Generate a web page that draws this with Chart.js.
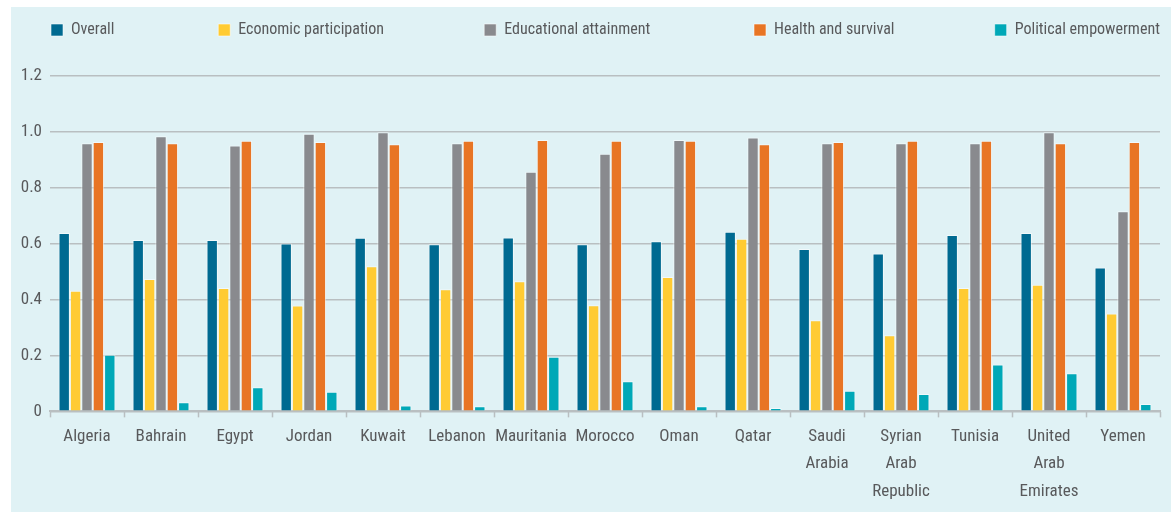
<!DOCTYPE html>
<html>
<head>
<meta charset="utf-8">
<script src="https://cdn.jsdelivr.net/npm/chart.js@4.4.1/dist/chart.umd.min.js"></script>
<style>
  html, body { margin: 0; padding: 0; background: #ffffff; }
  #panel { position: absolute; left: 11px; top: 7px; width: 1160px; height: 505px; background: #e0f2f5; }
</style>
</head>
<body>
<div id="panel"><canvas id="chart"></canvas></div>
<script>
"use strict";

// Gender gap index, MENA countries
const countries = [
  "Algeria", "Bahrain", "Egypt", "Jordan", "Kuwait", "Lebanon", "Mauritania", "Morocco",
  "Oman", "Qatar", ["Saudi", "Arabia"], ["Syrian", "Arab", "Republic"], "Tunisia",
  ["United", "Arab", "Emirates"], "Yemen",
];
const overall = [0.638, 0.613, 0.613, 0.601, 0.621, 0.598, 0.622, 0.598, 0.609, 0.643, 0.581, 0.565, 0.631, 0.638, 0.515];
const economic = [0.432, 0.474, 0.441, 0.379, 0.519, 0.437, 0.466, 0.380, 0.481, 0.618, 0.326, 0.272, 0.441, 0.453, 0.350];
const education = [0.959, 0.984, 0.951, 0.993, 0.999, 0.959, 0.857, 0.922, 0.971, 0.980, 0.959, 0.959, 0.959, 0.999, 0.716];
const health = [0.964, 0.959, 0.968, 0.964, 0.956, 0.968, 0.971, 0.968, 0.968, 0.956, 0.964, 0.968, 0.968, 0.959, 0.964];
const political = [0.203, 0.033, 0.086, 0.070, 0.021, 0.018, 0.195, 0.108, 0.018, 0.012, 0.074, 0.062, 0.168, 0.136, 0.026];
const y_ticks = [0, 0.2, 0.4, 0.6, 0.8, 1.0, 1.2];

const text_color = "#58595b";
const grid_color = "#b9bfc1";
const font_family = "'Roboto Condensed', 'Liberation Sans Narrow', 'DejaVu Sans Condensed', sans-serif";
const legend_font = 16;
// where each legend box starts (canvas px)
const legend_box_x = [40, 207, 472, 741, 982];

Chart.defaults.font.family = font_family;
Chart.defaults.font.size = 17;
Chart.defaults.color = text_color;

function make_set(label, values, color) {
  return {
    label: label,
    data: values,
    backgroundColor: color,
    borderColor: "rgba(255,255,255,0.55)",
    borderWidth: 1,
    barPercentage: 1,
    categoryPercentage: 0.77,
  };
}

// fixed legend height, and the single row never wraps
const legend_height = {
  id: "legend_height",
  beforeInit(chart) {
    const orig_fit = chart.legend.fit;
    chart.legend.fit = function () {
      this.maxWidth = 5000;
      orig_fit.call(this);
      this.height = 55;
    };
  },
  afterLayout(chart) {
    chart.legend.right = chart.width;
  },
};

const config = {
  type: "bar",
  data: {
    labels: countries,
    datasets: [
      make_set("Overall", overall, "#006a91"),
      make_set("Economic participation", economic, "#ffcb33"),
      make_set("Educational attainment", education, "#898a8e"),
      make_set("Health and survival", health, "#e87524"),
      make_set("Political empowerment", political, "#00a8b7"),
    ],
  },
  options: {
    responsive: true,
    maintainAspectRatio: false,
    animation: false,
    layout: { padding: { top: 14, right: 11, bottom: 1, left: 0 } },
    plugins: {
      tooltip: { enabled: false },
      legend: {
        position: "top",
        align: "start",
        fullSize: false,
        labels: {
          boxWidth: 12,
          boxHeight: 12,
          padding: 1,
          color: text_color,
          font: { size: legend_font },
          // trailing spaces push each item to its spot
          generateLabels(chart) {
            const items = Chart.defaults.plugins.legend.labels.generateLabels(chart);
            const ctx = chart.ctx;
            ctx.save();
            ctx.font = legend_font + "px " + font_family;
            const space_w = ctx.measureText(" ").width;
            items.forEach((item, i) => {
              if (i >= items.length - 1) return;
              const used = 12 + legend_font / 2 + ctx.measureText(item.text).width + 1;
              const n = Math.max(0, Math.round((legend_box_x[i + 1] - legend_box_x[i] - used) / space_w));
              item.text = item.text + " ".repeat(n);
            });
            ctx.restore();
            return items;
          },
        },
      },
    },
    scales: {
      x: {
        grid: {
          offset: true,
          drawOnChartArea: false,
          drawTicks: true,
          tickLength: 6,
          tickColor: grid_color,
          tickWidth: 1.5,
        },
        border: { display: true, color: grid_color, width: 2 },
        ticks: {
          autoSkip: false,
          maxRotation: 0,
          padding: 5,
          color: text_color,
          font: { size: 17, lineHeight: 1.64 },
        },
      },
      y: {
        min: 0,
        max: 1.2,
        afterFit(scale) {
          scale.width = 39;
        },
        afterBuildTicks(scale) {
          scale.ticks = y_ticks.map((v) => ({ value: v }));
        },
        grid: { color: grid_color, lineWidth: 1.5, drawTicks: false },
        border: { display: false },
        ticks: {
          padding: 8,
          color: text_color,
          font: { size: 17 },
          callback: (v) => (v === 0 ? "0" : v.toFixed(1)),
        },
      },
    },
  },
  plugins: [legend_height],
};

new Chart(document.getElementById("chart"), config);
</script>
</body>
</html>
